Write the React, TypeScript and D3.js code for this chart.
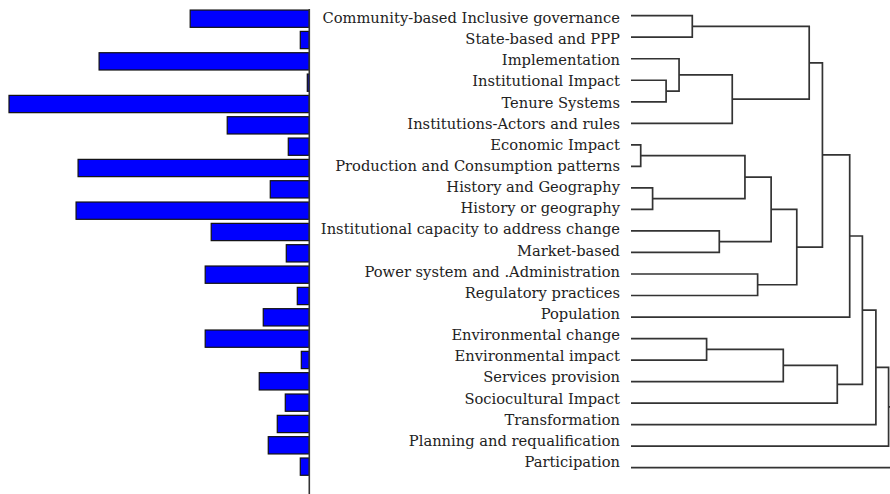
import React from "react";
import * as d3 from "d3";

// Leaf labels, top to bottom
const categories: string[] = [
  "Community-based Inclusive governance",
  "State-based and PPP",
  "Implementation",
  "Institutional Impact",
  "Tenure Systems",
  "Institutions-Actors and rules",
  "Economic Impact",
  "Production and Consumption patterns",
  "History and Geography",
  "History or geography",
  "Institutional capacity to address change",
  "Market-based",
  "Power system and .Administration",
  "Regulatory practices",
  "Population",
  "Environmental change",
  "Environmental impact",
  "Services provision",
  "Sociocultural Impact",
  "Transformation",
  "Planning and requalification",
  "Participation",
];

// Bar lengths for each category
const frequencies: number[] = [
  119, 9, 210, 2, 300, 82, 21, 231, 39, 233, 98, 23, 104, 12, 46, 104, 8, 50, 24,
  32, 41, 9,
];

// Agglomerative linkage: [child a, child b, merge height]; new node ids start at 22
const linkage: [number, number, number][] = [
  [6, 7, 3.6],
  [8, 9, 8.0],
  [3, 4, 13.0],
  [2, 24, 17.8],
  [0, 1, 22.7],
  [15, 16, 28.0],
  [10, 11, 32.7],
  [25, 5, 37.5],
  [22, 23, 42.2],
  [12, 13, 46.9],
  [30, 28, 51.9],
  [27, 17, 56.4],
  [32, 31, 61.4],
  [26, 29, 66.0],
  [35, 34, 70.9],
  [33, 18, 76.4],
  [36, 14, 81.0],
  [38, 37, 85.7],
  [39, 19, 90.7],
  [40, 20, 95.4],
  [41, 21, 100.0],
];

const W = 890;
const H = 494;

type Node = { x: number; y: number };

export default function App() {
  const barX = d3.scaleLinear().domain([0, 300]).range([309.3, 9]);
  const barY = d3
    .scaleBand<string>()
    .domain(categories)
    .range([8.03, 477.3])
    .paddingInner(0.19)
    .paddingOuter(0.095);
  const labelY = d3.scalePoint<string>().domain(categories).range([23, 467]);
  const leafY = d3.scalePoint<string>().domain(categories).range([15.7, 467.7]);
  const hX = d3.scaleLinear().domain([0, 100]).range([631, 901]);

  // Build node positions from the linkage
  const nodes: Node[] = categories.map((c) => ({ x: hX(0), y: leafY(c) as number }));
  const segs: string[] = [];
  linkage.forEach(([a, b, h]) => {
    const na = nodes[a];
    const nb = nodes[b];
    const px = hX(h);
    const path = d3.path();
    path.moveTo(na.x, na.y);
    path.lineTo(px, na.y);
    path.lineTo(px, nb.y);
    path.lineTo(nb.x, nb.y);
    segs.push(path.toString());
    nodes.push({ x: px, y: (na.y + nb.y) / 2 });
  });

  return (
    <svg
      width={W}
      height={H}
      style={{ position: "absolute", left: 0, top: 0, display: "block", background: "#fff" }}
    >
      <g>
        {categories.map((c, i) => (
          <rect
            key={c}
            x={barX(frequencies[i])}
            y={barY(c)}
            width={barX(0) - barX(frequencies[i])}
            height={barY.bandwidth()}
            fill="#0000ff"
            stroke="#111"
            strokeWidth={1.2}
          />
        ))}
        <line x1={barX(0)} x2={barX(0)} y1={9} y2={H} stroke="#333" strokeWidth={1.6} />
      </g>
      <g fontFamily="'DejaVu Serif', serif" fontSize={14.7} fill="#222" textAnchor="end">
        {categories.map((c) => (
          <text key={c} x={620} y={labelY(c)}>
            {c}
          </text>
        ))}
      </g>
      <g fill="none" stroke="#333" strokeWidth={1.7}>
        {segs.map((d, i) => (
          <path key={i} d={d} />
        ))}
      </g>
    </svg>
  );
}
